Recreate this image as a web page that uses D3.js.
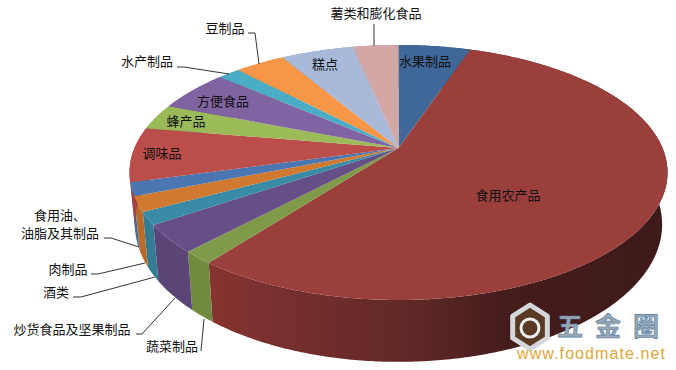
<!DOCTYPE html>
<html>
<head>
<meta charset="utf-8">
<script src="https://cdn.jsdelivr.net/npm/d3@7"></script>
<style>
html, body { margin: 0; padding: 0; background: #fff; }
svg { display: block; }
text { font-family: "Noto Sans CJK SC", sans-serif; font-size: 13px; fill: #111; }
.leader { fill: none; stroke: #333; stroke-width: 1; }
.mark-cn { font-size: 26px; font-weight: 700; fill: #9aa7b3; stroke: #4f7fa8; stroke-width: 0.6; }
.mark-url { font-family: "Liberation Sans", sans-serif; font-size: 16px; fill: #e0a63a; }
</style>
</head>
<body>
<div id="chart"></div>
<script>
const categories = ['水果制品', '食用农产品', '蔬菜制品', '炒货食品及坚果制品', '酒类', '肉制品', '食用油、油脂及其制品', '调味品', '蜂产品', '方便食品', '水产制品', '豆制品', '糕点', '薯类和膨化食品'];
const shares = [5.2, 55.2, 1.6, 3.5, 1.6, 1.9, 1.7, 6.9, 3.3, 5.3, 1.6, 3.6, 5.25, 3.3];
const topColors = ['#3f6797', '#9a3f3c', '#7f9a48', '#664e87', '#3a8ba6', '#cf7a30', '#4a77b2', '#bb4d4a', '#9bbb59', '#8064a2', '#4bacc6', '#f79646', '#a8b9d9', '#d3a7a6'];
const sideColors = ['#2f4d72', '#7a2f2d', '#728a40', '#5a4577', '#347c94', '#b86c2a', '#41699e', '#a04240', '#8aa64f', '#725991', '#4399b0', '#dc853e', '#95a4c1', '#bb9594'];

const WIDTH = 676;
const HEIGHT = 370;
// apex of the pie, the picture has perspective so it is not the ellipse centre
const CX = 398.5;
const CY = 148;
const RADIUS = 264;
const FLAT = 122.8;
const PERSP = 0.192;
const DEPTH = 50;
const BOTTOM_SHRINK = 0.98;

// leader lines and label spots, picture pixels
const labelSpots = [
	{ x: 425, y: 66 }, { x: 508, y: 200 }, { x: 172, y: 351 }, { x: 72, y: 334 },
	{ x: 56, y: 297 }, { x: 68, y: 274 }, { x: 60, y: 220 }, { x: 162, y: 158 },
	{ x: 186, y: 126 }, { x: 223, y: 106 }, { x: 147, y: 66 }, { x: 225, y: 33 },
	{ x: 325, y: 69 }, { x: 376, y: 18 }
];
const leaders = {
	2: [[201, 351], [204, 319]],
	3: [[136, 334], [142, 334], [175, 298]],
	4: [[73, 297], [81, 297], [155, 277]],
	5: [[91, 274], [98, 274], [145, 263]],
	6: [[104, 238], [111, 238], [139, 247]],
	10: [[177, 67], [184, 67], [229, 74]],
	11: [[248, 33], [255, 33], [259, 64]],
	13: [[374, 24], [374, 46]]
};

const $svg = d3.select('#chart').append('svg').attr('width', WIDTH).attr('height', HEIGHT);

const pie = d3.pie().sort(null).value(d => d);
const slices = pie(shares);

// angle clockwise from 12 o'clock -> picture point
const u = a => Math.sin(a);
const v = a => -Math.cos(a);
const topX = a => CX + (RADIUS * u(a)) / (1 - PERSP * v(a));
const topY = a => CY + (FLAT * v(a)) / (1 - PERSP * v(a));
const botX = a => CX + (BOTTOM_SHRINK * RADIUS * u(a)) / (1 - PERSP * v(a));
const botY = a => topY(a) + DEPTH / (1 - PERSP * v(a));

const line = d3.line().x(d => d[0]).y(d => d[1]);

function arcAngles(a0, a1) {
	const n = Math.max(2, Math.ceil((a1 - a0) / 0.01));
	return d3.range(n + 1).map(i => a0 + ((a1 - a0) * i) / n);
}

const $defs = $svg.append('defs');
const $grad = $defs.append('linearGradient')
	.attr('id', 'side-big')
	.attr('gradientUnits', 'userSpaceOnUse')
	.attr('x1', 210).attr('y1', 0).attr('x2', 668).attr('y2', 0);
$grad.append('stop').attr('offset', 0).attr('stop-color', '#853330');
$grad.append('stop').attr('offset', 0.45).attr('stop-color', '#5e2826');
$grad.append('stop').attr('offset', 0.65).attr('stop-color', '#451c1c');
$grad.append('stop').attr('offset', 1).attr('stop-color', '#3f1a1a');

// walls first, the top face then hides the back half of them
$svg.append('g').selectAll('path')
	.data(slices)
	.join('path')
	.attr('fill', (d, i) => (i === 1 ? 'url(#side-big)' : sideColors[i]))
	.attr('d', d => {
		const as = arcAngles(d.startAngle, d.endAngle);
		const top = as.map(a => [topX(a), topY(a)]);
		const bot = as.map(a => [botX(a), botY(a)]).reverse();
		return line(top.concat(bot)) + 'Z';
	});

$svg.append('g').selectAll('path')
	.data(slices)
	.join('path')
	.attr('fill', (d, i) => topColors[i])
	.attr('d', d => {
		const pts = arcAngles(d.startAngle, d.endAngle).map(a => [topX(a), topY(a)]);
		return line([[CX, CY]].concat(pts)) + 'Z';
	});

const $lines = $svg.append('g');
Object.values(leaders).forEach(pts => {
	$lines.append('path').attr('class', 'leader').attr('d', line(pts));
});

const $labels = $svg.append('g');
categories.forEach((name, i) => {
	const spot = labelSpots[i];
	const $t = $labels.append('text')
		.attr('text-anchor', 'middle')
		.attr('x', spot.x)
		.attr('y', spot.y);
	if (name === '食用油、油脂及其制品') {
		$t.append('tspan').attr('x', spot.x).attr('y', spot.y).text('食用油、');
		$t.append('tspan').attr('x', spot.x).attr('dy', 18).text('油脂及其制品');
	} else {
		$t.text(name);
	}
});

// site watermark, bottom right corner
const $mark = $svg.append('g');
const hexPts = d3.range(6).map(i => {
	const a = (Math.PI / 3) * i;
	return [530 + 20 * Math.sin(a), 327 - 22 * Math.cos(a)];
});
$mark.append('path')
	.attr('d', line(hexPts) + 'Z')
	.attr('fill', '#5a3a22')
	.attr('stroke', '#d5d8da')
	.attr('stroke-width', 5)
	.attr('stroke-linejoin', 'round');
$mark.append('circle').attr('cx', 530).attr('cy', 328).attr('r', 9)
	.attr('fill', 'none').attr('stroke', '#eceeef').attr('stroke-width', 3);
$mark.append('text').attr('class', 'mark-cn').attr('x', 557).attr('y', 336)
	.attr('textLength', 102).text('五金圈');
$mark.append('text').attr('class', 'mark-url').attr('x', 517).attr('y', 359)
	.attr('textLength', 148).text('www.foodmate.net');
</script>
</body>
</html>
